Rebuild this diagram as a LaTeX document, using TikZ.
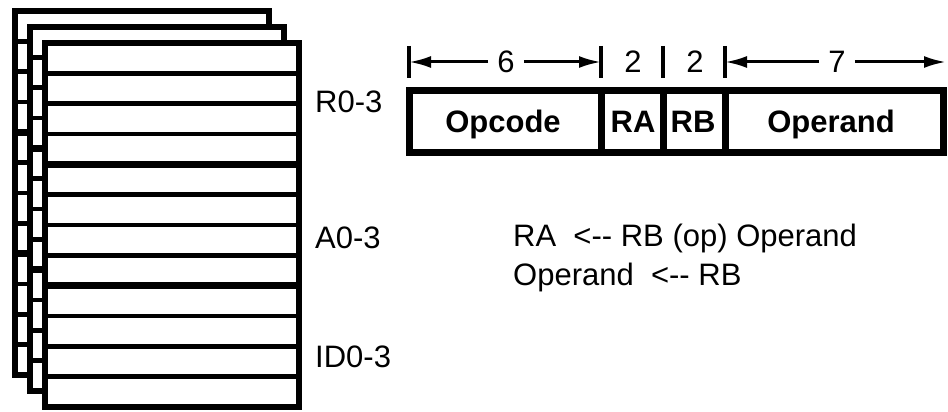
\documentclass[tikz,border=0pt]{standalone}
\usepackage{fontspec}
\setmainfont{Liberation Sans}
\usetikzlibrary{arrows.meta}
\begin{document}
\begin{tikzpicture}[x=1pt,y=-1pt,
  sheetline/.style={line width=6.5pt},
  rowline/.style={line width=4.5pt},
  groupline/.style={line width=7pt},
  boxline/.style={line width=7pt},
  reglabel/.style={anchor=base west, inner sep=0pt, font=\fontsize{31}{36}\selectfont},
  fieldtext/.style={anchor=base, inner sep=0pt, font=\bfseries\fontsize{31}{36}\selectfont},
  dimtext/.style={font=\fontsize{31}{36}\selectfont, inner xsep=9pt, inner ysep=0pt},
  dimtick/.style={line width=3.5pt},
  dimarrow/.style={line width=3pt, -{Latex[length=22pt,width=12pt]}},
  ]
\useasboundingbox (0,0) rectangle (948,412);

% stacked register files, drawn back to front
\foreach \sx/\sy in {15/11, 30/27, 45/43} {
  \begin{scope}[shift={(\sx,\sy)}]
    \fill[white] (0,0) rectangle (254,364);
    \foreach \k in {1,2,3,5,6,7,9,10,11}
      \draw[rowline] (0,\k*30.333) -- (254,\k*30.333);
    \foreach \k in {4,8}
      \draw[groupline] (0,\k*30.333) -- (254,\k*30.333);
    \draw[sheetline] (0,0) rectangle (254,364);
  \end{scope}
}

% register group names
\node[reglabel] (rgrp)  at (315,112) {R0-3};
\node[reglabel] (agrp)  at (315,248) {A0-3};
\node[reglabel] (idgrp) at (315,367) {ID0-3};

% instruction format fields
\draw[boxline] (409,90.5) rectangle (943.5,152.5);
\draw[boxline] (601,90.5) -- (601,152.5);
\draw[boxline] (663,90.5) -- (663,152.5);
\draw[boxline] (725,90.5) -- (725,152.5);
\node[fieldtext] (opc) at (503,132) {Opcode};
\node[fieldtext] (fra) at (633,132) {RA};
\node[fieldtext] (frb) at (693,132) {RB};
\node[fieldtext] (fop) at (831,132) {Operand};

% field widths
\coordinate (d0) at (409,62);
\coordinate (d1) at (601,62);
\coordinate (d2) at (663,62);
\coordinate (d3) at (725,62);
\coordinate (d4) at (946,62);
\foreach \c in {d0,d1,d2,d3}
  \draw[dimtick] (\c) ++(0,-16) -- ++(0,32);
\node[dimtext] (six)   at (506,62) {6};
\node[dimtext] (twoa)  at (633,62) {2};
\node[dimtext] (twob)  at (695,62) {2};
\node[dimtext] (seven) at (837,62) {7};
\draw[dimarrow] (six.west) -- (d0);
\draw[dimarrow] (six.east) -- (d1);
\draw[dimarrow] (seven.west) -- (d3);
\draw[dimarrow] (seven.east) -- (d4);

% register transfer rules
\node[reglabel] (rule1) at (513,246) {RA\ \ <-{}- RB (op) Operand};
\node[reglabel] (rule2) at (513,285) {Operand\ \ <-{}- RB};
\end{tikzpicture}
\end{document}
